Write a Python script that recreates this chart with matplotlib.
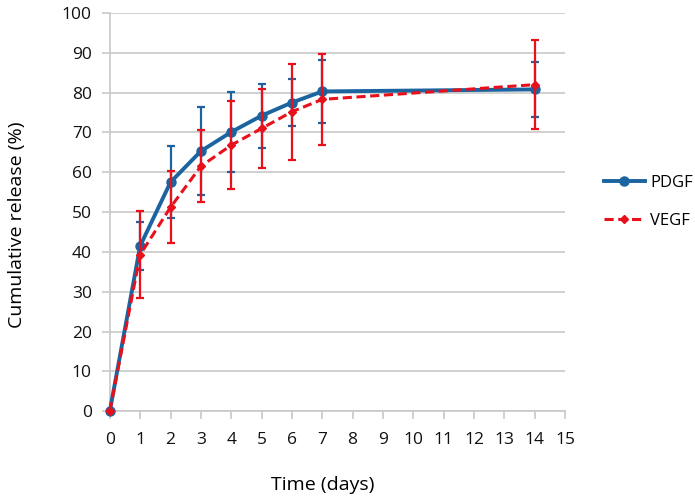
import matplotlib
matplotlib.use("Agg")
import matplotlib.pyplot as plt
from matplotlib.lines import Line2D

plt.rcParams['font.family'] = ['Open Sans', 'DejaVu Sans']

days = [0, 1, 2, 3, 4, 5, 6, 7, 14]
pdgf = [0, 41.5, 57.5, 65.3, 70.1, 74.2, 77.5, 80.3, 80.8]
pdgf_err = [0, 6, 9, 11, 10, 8, 6, 8, 7]
vegf = [0, 39.3, 51.2, 61.5, 66.8, 71.0, 75.2, 78.3, 82.0]
vegf_err = [0, 11, 9, 9, 11, 10, 12, 11.5, 11.2]

blue = "#1c64a0"
red = "#e8101a"
grid_col = "#c8c8c8"

fig = plt.figure(figsize=(6.95, 4.99), dpi=100)
ax = fig.add_axes([0.158, 0.176, 0.655, 0.798])

ax.errorbar(days, pdgf, yerr=pdgf_err, color=blue, lw=2.8, marker="o", ms=6.5,
            ecolor=blue, elinewidth=1.6, capsize=3, capthick=1.6, zorder=3, clip_on=False)
ax.errorbar(days, vegf, yerr=vegf_err, color=red, lw=2.2, ls=(0, (3, 1.5)), marker="D", ms=4.5,
            ecolor=red, elinewidth=1.6, capsize=3, capthick=1.6, zorder=4, clip_on=False)

ax.set_xlim(0, 15)
ax.set_ylim(0, 100)
ax.set_xticks(range(0, 16))
ax.set_yticks(range(0, 101, 10))
ax.yaxis.grid(True, color=grid_col, lw=1.2)
ax.set_axisbelow(True)
for s in ["top", "right"]:
    ax.spines[s].set_visible(False)
for s in ["left", "bottom"]:
    ax.spines[s].set_color(grid_col)
    ax.spines[s].set_linewidth(1.2)
ax.tick_params(axis="both", colors=grid_col, length=6, width=1.2, labelcolor="#111111",
               labelsize=12.5)
ax.tick_params(axis="y", pad=7)
ax.tick_params(axis="x", pad=9)
ax.set_xlabel("Time (days)", fontsize=14, va="center")
ax.set_ylabel("Cumulative release (%)", fontsize=14, va="center")
ax.xaxis.set_label_coords(0.468, -0.186)
ax.yaxis.set_label_coords(-0.204, 0.467)

handles = [
    Line2D([], [], color=blue, lw=2.8, marker="o", ms=6.5, label="PDGF"),
    Line2D([], [], color=red, lw=2.2, ls=(0, (3, 1.5)), marker="D", ms=4.5, label="VEGF"),
]
ax.legend(handles=handles, loc="center left", bbox_to_anchor=(1.07, 0.525), frameon=False,
          fontsize=12, handlelength=2.5, handletextpad=0.3, labelspacing=1.3,
          borderaxespad=0)

fig.savefig("out.png", dpi=100)
